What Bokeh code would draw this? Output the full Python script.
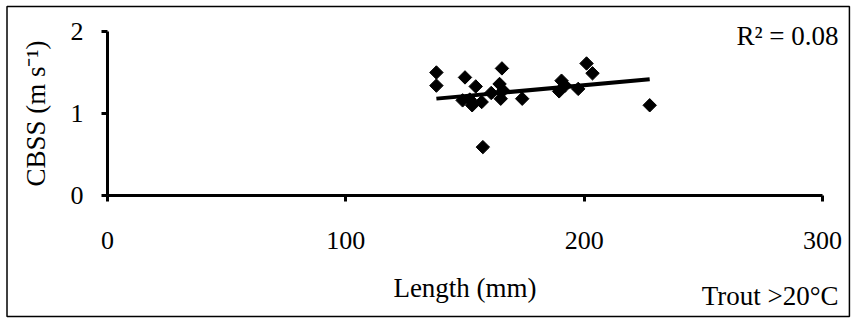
import numpy as np
from bokeh.plotting import figure
from bokeh.models import Range1d, FixedTicker, BoxAnnotation, Label
from bokeh.embed import file_html
from bokeh.resources import INLINE

# Trout above 20 °C: fish length vs critical burst swimming speed
length_mm = [138, 138, 150, 165.5, 154.5, 164.5, 149, 153, 157, 165, 174,
             190.5, 189.5, 197.5, 201, 203.5, 227.5, 157.5, 161, 166, 192, 152]
cbss = [1.50, 1.34, 1.44, 1.55, 1.33, 1.36, 1.16, 1.10, 1.14, 1.18, 1.18,
        1.40, 1.27, 1.30, 1.61, 1.49, 1.10, 0.59, 1.25, 1.28, 1.34, 1.17]
# linear trendline reported with the panel
trend_slope = 0.002637
trend_intercept = 0.8174
x_ticks = [0, 100, 200, 300]
y_ticks = [0, 1, 2]
r2_text = "R² = 0.08"
panel_text = "Trout >20°C"

FONT = "Liberation Serif"
TICK_FS = "26px"
LABEL_FS = "27px"

# the plotting frame spans the whole canvas; axes sit at fixed data locations
p = figure(width=856, height=322, output_backend="svg", toolbar_location=None,
           x_range=Range1d(-44.9, 314.27), y_range=Range1d(-1.549, 2.378),
           min_border_left=0, min_border_right=0,
           min_border_top=0, min_border_bottom=0)
p.outline_line_color = None
p.grid.visible = False
p.background_fill_color = "white"
p.border_fill_color = "white"

for ax in (p.xaxis[0], p.yaxis[0]):
    ax.fixed_location = 0
    ax.axis_line_width = 3
    ax.axis_line_color = "black"
    ax.major_tick_line_width = 3
    ax.major_tick_line_color = "black"
    ax.major_tick_out = 6
    ax.major_tick_in = 0
    ax.minor_tick_line_color = None
    ax.major_label_text_font = FONT
    ax.major_label_text_font_size = TICK_FS
    ax.major_label_text_color = "black"
    ax.axis_label_text_font = FONT
    ax.axis_label_text_font_size = LABEL_FS
    ax.axis_label_text_font_style = "normal"
    ax.axis_label_text_color = "black"

p.xaxis.bounds = (0, 300)
p.yaxis.bounds = (0, 2)
p.xaxis.ticker = FixedTicker(ticks=x_ticks)
p.yaxis.ticker = FixedTicker(ticks=y_ticks)
p.xaxis.axis_label = "Length (mm)"
p.yaxis.axis_label = "CBSS (m s⁻¹)"
p.xaxis.major_label_standoff = 31
p.xaxis.axis_label_standoff = 20
p.yaxis.major_label_standoff = 18
p.yaxis.axis_label_standoff = 17

# trendline over the observed length range
xs = np.array([min(length_mm), max(length_mm)])
p.line(xs, trend_intercept + trend_slope * xs, line_color="black", line_width=4)

p.scatter(length_mm, cbss, marker="square", angle=np.pi / 4, size=9.5,
          fill_color="black", line_color="black")

p.add_layout(Label(x=306.7, y=1.94, text=r2_text, text_align="right",
                   text_baseline="middle", text_font=FONT, text_font_size=LABEL_FS,
                   text_color="black"))
p.add_layout(Label(x=306.7, y=-1.22, text=panel_text, text_align="right",
                   text_baseline="middle", text_font=FONT, text_font_size=LABEL_FS,
                   text_color="black"))

# frame around the whole chart area
p.add_layout(BoxAnnotation(left=-42.17, right=311.3, bottom=-1.476, top=2.305,
                           fill_color=None, line_color="black", line_width=1.5,
                           line_alpha=1.0))

open("out.html", "w").write(file_html(p, INLINE))
